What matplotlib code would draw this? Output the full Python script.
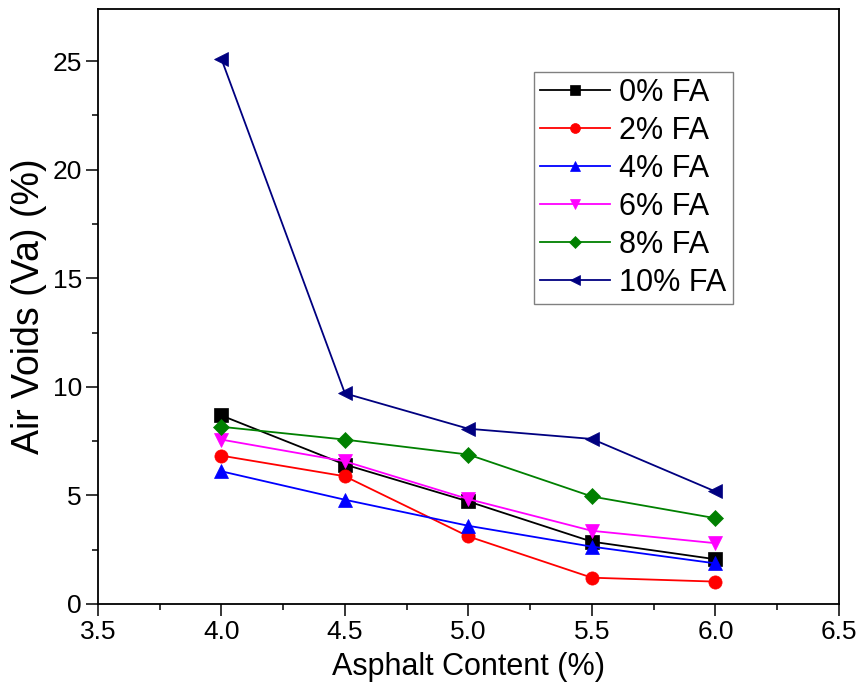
import matplotlib
matplotlib.use("Agg")
import matplotlib.pyplot as plt
from matplotlib.ticker import MultipleLocator, FormatStrFormatter

plt.rcParams["font.family"] = ["Liberation Sans", "DejaVu Sans"]

asphalt = [4.0, 4.5, 5.0, 5.5, 6.0]
fa_00 = [8.68, 6.42, 4.72, 2.87, 2.06]
fa_02 = [6.83, 5.88, 3.11, 1.21, 1.03]
fa_04 = [6.11, 4.80, 3.60, 2.64, 1.87]
fa_06 = [7.57, 6.57, 4.83, 3.37, 2.80]
fa_08 = [8.16, 7.57, 6.88, 4.95, 3.95]
fa_10 = [25.1, 9.70, 8.07, 7.60, 5.18]

series = [
    ("0% FA", fa_00, "#000000", "s"),
    ("2% FA", fa_02, "#ff0000", "o"),
    ("4% FA", fa_04, "#0000ff", "^"),
    ("6% FA", fa_06, "#ff00ff", "v"),
    ("8% FA", fa_08, "#008000", "D"),
    ("10% FA", fa_10, "#000080", "<"),
]

fig = plt.figure(figsize=(8.59, 6.98), dpi=100)
ax = fig.add_axes([0.114, 0.1347, 0.8626, 0.8524])

for name, vals, c, m in series:
    ms = 8.5 if m == "D" else 9.5
    ax.plot(asphalt, vals, color=c, marker=m, markersize=ms, linewidth=1.3,
            markeredgewidth=0.5, label=name)

ax.set_xlim(3.5, 6.5)
ax.set_ylim(0, 27.4)
ax.xaxis.set_major_locator(MultipleLocator(0.5))
ax.xaxis.set_minor_locator(MultipleLocator(0.25))
ax.yaxis.set_major_locator(MultipleLocator(5))
ax.yaxis.set_minor_locator(MultipleLocator(2.5))
ax.xaxis.set_major_formatter(FormatStrFormatter("%.1f"))
ax.tick_params(which="major", direction="out", length=8.5, width=1.1,
               labelsize=19, top=False, right=False, pad=3)
ax.tick_params(which="minor", direction="out", length=4.5, width=1.1,
               top=False, right=False)
for sp in ax.spines.values():
    sp.set_linewidth(1.3)

ax.set_xlabel("Asphalt Content (%)", fontsize=22, labelpad=6)
ax.set_ylabel("Air Voids (Va) (%)", fontsize=27, labelpad=4)

leg = ax.legend(loc="upper left", bbox_to_anchor=(0.588, 0.894), fontsize=22,
                handlelength=2.3, handletextpad=0.3, labelspacing=0.26,
                borderpad=0.2, borderaxespad=0, markerscale=0.75,
                fancybox=False, framealpha=1, edgecolor="#808080")
leg.get_frame().set_linewidth(1.0)

fig.savefig("out.png", dpi=100)
